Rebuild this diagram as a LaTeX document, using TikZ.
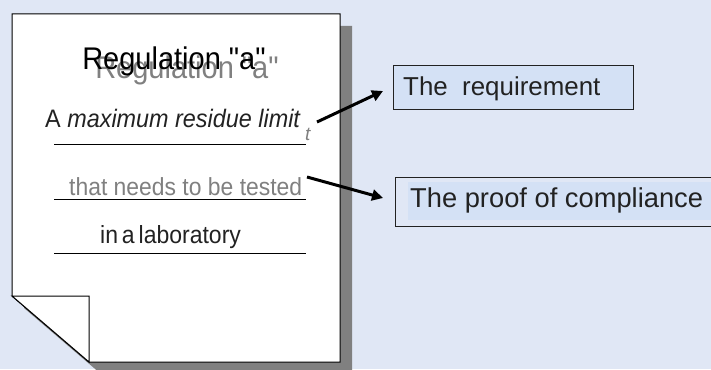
\documentclass[tikz,border=0pt]{standalone}
\usepackage{fontspec}
\setmainfont{Liberation Sans}[Ligatures=TeXOff]
\usetikzlibrary{arrows.meta}
\definecolor{bg}{RGB}{224,231,245}
\definecolor{hl}{RGB}{212,225,245}
\definecolor{shadowgray}{RGB}{128,128,128}
\definecolor{ink}{RGB}{34,34,34}
\definecolor{faint}{RGB}{128,128,128}
\newcommand{\tallish}[1]{\scalebox{1}[1.08]{#1}}
\begin{document}
\begin{tikzpicture}[x=1pt,y=-1pt,
  txt/.style={anchor=base west, inner sep=0pt, text=ink},
  rule/.style={line width=1pt, draw=black},
  conn/.style={line width=3pt, draw=black, -{Triangle[length=11pt,width=11pt]}},
  labelbox/.style={draw=ink, line width=1pt, anchor=north west, inner sep=0pt}]
\useasboundingbox (0,0) rectangle (711,369);
\fill[bg] (0,0) rectangle (711,369);
% page shadow and page
\fill[shadowgray] (24,26) -- (352,26) -- (352,374) -- (101,374) -- (24,308) -- cycle;
\filldraw[fill=white, draw=black, line width=1pt] (12,14) -- (340,14) -- (340,362) -- (89,362) -- (12,296) -- cycle;
\filldraw[fill=white, draw=black, line width=1pt] (12,296) -- (89,296) -- (89,362) -- cycle;
% title
\node[anchor=base, inner sep=0pt, text=faint, font=\fontsize{29}{29}\selectfont] (titleshadow) at (187,78) {\tallish{Regulation "a"}};
\node[anchor=base, inner sep=0pt, text=black, font=\fontsize{29}{29}\selectfont] (title) at (174,70) {\tallish{Regulation "a"}};
% lines of text
\node[txt, font=\fontsize{23.4}{23.4}\selectfont] (mrl) at (45,127) {\tallish{A \textit{maximum residue limit}}};
\node[txt, text=faint, font=\fontsize{19}{19}\selectfont\itshape] (sub) at (305,140) {t};
\node[txt, text=faint, font=\fontsize{22.9}{22.9}\selectfont] (tested) at (69,195) {\tallish{that needs to be tested}};
\node[txt, font=\fontsize{23}{23}\selectfont] (lab) at (100,243) {\tallish{\spaceskip=0.17em in a laboratory}};
\draw[rule] (54,144) -- (306,144);
\draw[rule] (54,199) -- (306,199);
\draw[rule] (54,253) -- (306,253);
% boxes
\node[labelbox, fill=hl, minimum width=240pt, minimum height=44pt] (reqbox) at (393,65) {};
\node[txt, font=\fontsize{25.9}{25.9}\selectfont] (req) at (403,95) {The\ \ requirement};
\node[labelbox, fill=bg, minimum width=340pt, minimum height=49pt] (proofbox) at (395,177) {};
\fill[hl] (408,182) rectangle (720,220);
\node[txt, font=\fontsize{27.3}{27.3}\selectfont] (proof) at (410,207) {The proof of compliance};
% connectors
\coordinate (s1) at (317,122);
\coordinate (e1) at (383,91);
\coordinate (s2) at (307,177);
\coordinate (e2) at (383,198);
\draw[conn] (s1) -- (e1);
\draw[conn] (s2) -- (e2);
\end{tikzpicture}
\end{document}
